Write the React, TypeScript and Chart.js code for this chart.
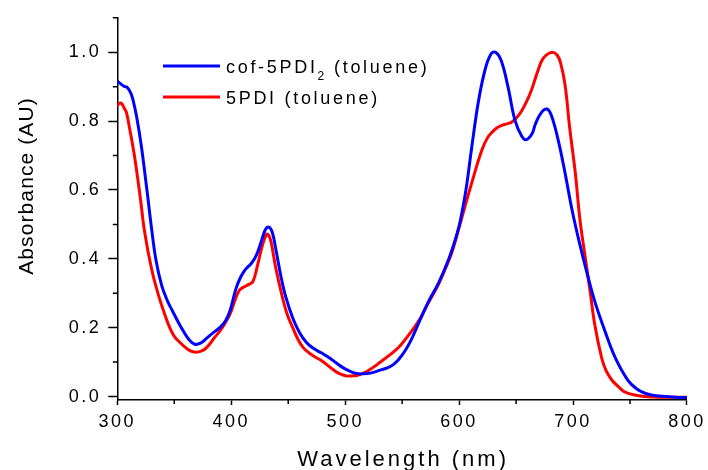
import React, { useEffect, useRef } from "react";
import { Chart, registerables } from "chart.js";

Chart.register(...registerables);

// ---- data ----
const blueWavelength = [
  300, 303, 306, 309, 312, 314, 317, 321, 326, 330, 334, 339, 344, 349, 354, 358, 363, 368, 373, 378,
  384, 390, 395, 399, 404, 408, 412, 415, 418, 422, 426, 430, 433, 436, 439, 444, 448, 454, 460, 466,
  472, 479, 486, 492, 498, 504, 510, 516, 522, 530, 540, 547, 553, 559, 566, 573, 582, 591, 597, 601,
  606, 611, 617, 623, 628, 632, 637, 643, 649, 655, 659, 664, 667, 672, 677, 681, 687, 693, 699, 705,
  712, 719, 728, 737, 748, 756, 763, 770, 778, 790, 800,
];
const blueAbsorbance = [
  0.916, 0.908, 0.901, 0.897, 0.88, 0.859, 0.812, 0.73, 0.6, 0.49, 0.395, 0.322, 0.278, 0.245, 0.213, 0.19, 0.165, 0.152, 0.155, 0.168,
  0.185, 0.2, 0.22, 0.25, 0.312, 0.345, 0.367, 0.378, 0.388, 0.41, 0.447, 0.485, 0.492, 0.477, 0.43, 0.343, 0.288, 0.228, 0.185, 0.157,
  0.14, 0.127, 0.113, 0.098, 0.084, 0.074, 0.067, 0.066, 0.068, 0.076, 0.088, 0.108, 0.135, 0.172, 0.225, 0.275, 0.33, 0.4, 0.46, 0.51,
  0.6, 0.722, 0.858, 0.952, 0.995, 1.0, 0.975, 0.898, 0.803, 0.756, 0.746, 0.763, 0.792, 0.824, 0.835, 0.816, 0.744, 0.649, 0.544, 0.455,
  0.362, 0.277, 0.19, 0.113, 0.048, 0.022, 0.01, 0.004, 0.001, -0.002, -0.003,
];

const redWavelength = [
  300, 302, 304, 306, 308, 311, 315, 320, 324, 330, 336, 341, 346, 350, 355, 360, 364, 369, 373, 377,
  381, 385, 390, 394, 399, 403, 407, 411, 415, 419, 423, 427, 431, 433, 435, 439, 445, 449, 454, 458,
  463, 469, 474, 479, 483, 488, 492, 496, 501, 506, 511, 516, 521, 526, 530, 538, 547, 556, 565, 573,
  582, 588, 594, 602, 611, 620, 625, 629, 633, 637, 642, 646, 651, 655, 660, 664, 669, 673, 677, 682,
  686, 689, 693, 697, 702, 706, 710, 715, 719, 725, 729, 734, 740, 745, 752, 763, 780, 800,
];
const redAbsorbance = [
  0.845, 0.852, 0.85, 0.838, 0.825, 0.775, 0.7, 0.582, 0.478, 0.372, 0.296, 0.245, 0.2, 0.175, 0.157, 0.142, 0.133, 0.129, 0.131, 0.138,
  0.152, 0.17, 0.19, 0.21, 0.24, 0.277, 0.308, 0.318, 0.325, 0.334, 0.38, 0.435, 0.471, 0.468, 0.448, 0.375, 0.287, 0.24, 0.2, 0.17,
  0.143, 0.125, 0.114, 0.105, 0.095, 0.082, 0.072, 0.065, 0.06, 0.06, 0.062, 0.068, 0.077, 0.088, 0.098, 0.118, 0.143, 0.18, 0.222, 0.272,
  0.327, 0.372, 0.422, 0.515, 0.62, 0.716, 0.752, 0.768, 0.78, 0.787, 0.792, 0.797, 0.812, 0.83, 0.862, 0.895, 0.945, 0.978, 0.993, 1.0,
  0.992, 0.97, 0.905, 0.782, 0.649, 0.515, 0.42, 0.305, 0.21, 0.114, 0.075, 0.048, 0.028, 0.014, 0.006, 0.0, -0.002, -0.002,
];

const seriesLabels = ["cof-5PDI\u2082 (toluene)", "5PDI (toluene)"];
const legendParts = [
  [{ text: "cof-5PDI" }, { text: "2", sub: true }, { text: " (toluene)" }],
  [{ text: "5PDI (toluene)" }],
];
const seriesColors = ["#0000ff", "#ff0000"];

const xMajorTicks = [300, 400, 500, 600, 700, 800];
const xMinorTicks = [350, 450, 550, 650, 750];
const yMajorTicks = [0, 0.2, 0.4, 0.6, 0.8, 1.0];
const yMinorTicks = [0.1, 0.3, 0.5, 0.7, 0.9, 1.1];

const xTitle = "Wavelength (nm)";
const yTitle = "Absorbance (AU)";

const FONT = "'Liberation Sans', Arial, sans-serif";

const decorPlugin = {
  id: "decor",
  beforeDraw(chart: any) {
    chart.ctx.letterSpacing = "2.5px";
  },
  afterDraw(chart: any) {
    const ctx = chart.ctx as CanvasRenderingContext2D;
    const xs = chart.scales.x;
    const ys = chart.scales.y;
    const area = chart.chartArea;
    ctx.save();
    // minor ticks
    ctx.strokeStyle = "#000";
    ctx.lineWidth = 1.5;
    ctx.beginPath();
    xMinorTicks.forEach((v) => {
      const px = xs.getPixelForValue(v);
      ctx.moveTo(px, area.bottom);
      ctx.lineTo(px, area.bottom + 4);
    });
    yMinorTicks.forEach((v) => {
      const py = ys.getPixelForValue(v);
      ctx.moveTo(area.left, py);
      ctx.lineTo(area.left - 4.5, py);
    });
    ctx.stroke();

    // axis titles
    ctx.fillStyle = "#000";
    ctx.font = `22px ${FONT}`;
    (ctx as any).letterSpacing = "3px";
    ctx.textAlign = "center";
    ctx.textBaseline = "alphabetic";
    ctx.fillText(xTitle, (area.left + area.right) / 2 + 1, 466);

    ctx.font = `21px ${FONT}`;
    (ctx as any).letterSpacing = "1.1px";
    ctx.save();
    ctx.translate(33, 186);
    ctx.rotate(-Math.PI / 2);
    ctx.fillText(yTitle, 0, 0);
    ctx.restore();

    // legend
    const rows = [66, 97];
    ctx.textAlign = "left";
    rows.forEach((ry, i) => {
      ctx.strokeStyle = seriesColors[i];
      ctx.lineWidth = 3;
      ctx.beginPath();
      ctx.moveTo(163, ry);
      ctx.lineTo(220, ry);
      ctx.stroke();
      let tx = 226;
      legendParts[i].forEach((p: any) => {
        if (p.sub) {
          ctx.font = `12px ${FONT}`;
          (ctx as any).letterSpacing = "1px";
          ctx.fillText(p.text, tx, ry + 14);
          tx += ctx.measureText(p.text).width + 1;
        } else {
          ctx.font = `18px ${FONT}`;
          (ctx as any).letterSpacing = "2.7px";
          ctx.fillText(p.text, tx, ry + 6.5);
          tx += ctx.measureText(p.text).width;
        }
      });
    });
    ctx.restore();
  },
};

export default function App() {
  const canvasRef = useRef<HTMLCanvasElement | null>(null);

  useEffect(() => {
    if (!canvasRef.current) return;
    const tickFont = { family: FONT, size: 18 };
    const chart = new Chart(canvasRef.current, {
      type: "line",
      data: {
        datasets: [
          {
            label: seriesLabels[0],
            data: blueWavelength.map((w, i) => ({ x: w, y: blueAbsorbance[i] })),
            borderColor: seriesColors[0],
            backgroundColor: seriesColors[0],
          },
          {
            label: seriesLabels[1],
            data: redWavelength.map((w, i) => ({ x: w, y: redAbsorbance[i] })),
            borderColor: seriesColors[1],
            backgroundColor: seriesColors[1],
          },
        ],
      },
      options: {
        responsive: false,
        animation: false,
        devicePixelRatio: 1,
        layout: { padding: { left: 0, right: 18.7, top: 12.7, bottom: 0 } },
        elements: {
          point: { radius: 0 },
          line: { borderWidth: 3, tension: 0.4, borderJoinStyle: "round", borderCapStyle: "round" },
        },
        plugins: {
          legend: { display: false },
          tooltip: { enabled: false },
          title: { display: false },
        },
        scales: {
          x: {
            type: "linear",
            min: 300,
            max: 800,
            afterFit: (s: any) => {
              s.height = 90;
            },
            afterBuildTicks: (s: any) => {
              s.ticks = xMajorTicks.map((v) => ({ value: v }));
            },
            ticks: {
              font: tickFont,
              color: "#000",
              padding: 6,
              maxRotation: 0,
              autoSkip: false,
              callback: (v: any) => String(v),
            },
            grid: {
              drawOnChartArea: false,
              drawTicks: true,
              tickLength: 5,
              tickWidth: 1.5,
              tickColor: "#000",
            },
            border: { display: true, color: "#000", width: 1.5 },
          },
          y: {
            type: "linear",
            min: -0.01,
            max: 1.1,
            afterFit: (s: any) => {
              s.width = 117.3;
            },
            afterBuildTicks: (s: any) => {
              s.ticks = yMajorTicks.map((v) => ({ value: v }));
            },
            ticks: {
              font: tickFont,
              color: "#000",
              padding: 7,
              autoSkip: false,
              callback: (v: any) => Number(v).toFixed(1),
            },
            grid: {
              drawOnChartArea: false,
              drawTicks: true,
              tickLength: 9,
              tickWidth: 1.5,
              tickColor: "#000",
            },
            border: { display: true, color: "#000", width: 1.5 },
          },
        },
      },
      plugins: [decorPlugin],
    } as any);
    return () => chart.destroy();
  }, []);

  return (
    <div
      style={{
        position: "absolute",
        left: 0,
        top: 0,
        width: 708,
        height: 470,
        overflow: "hidden",
        background: "#fff",
      }}
    >
      <canvas ref={canvasRef} width={708} height={490} style={{ display: "block" }} />
    </div>
  );
}
